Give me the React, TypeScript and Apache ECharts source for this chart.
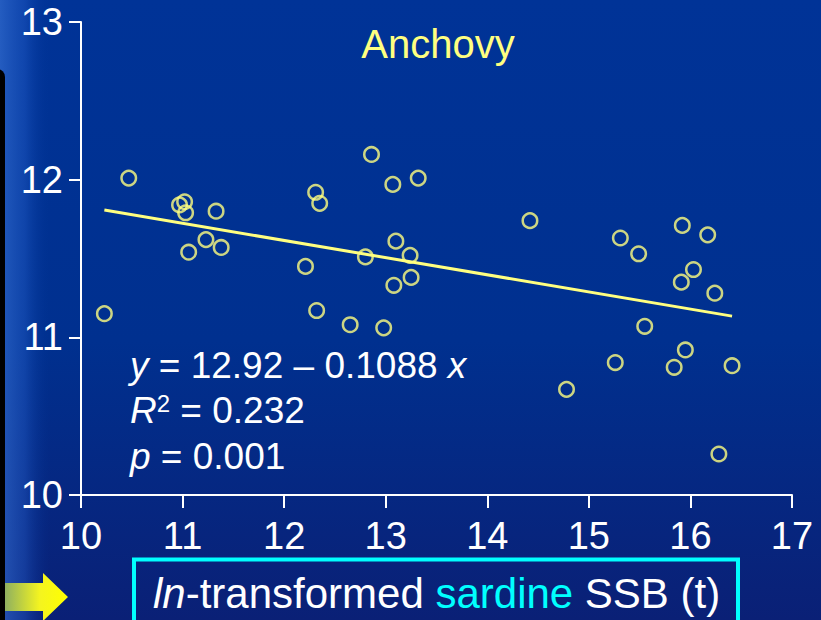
import React, { useEffect, useRef } from "react";
import * as echarts from "echarts";

// ln-transformed sardine spawning stock biomass (x) vs anchovy (y)
const sardineSSB: number[] = [
  10.23, 10.47, 10.97, 11.02, 11.03, 11.33, 11.06, 11.23, 11.38, 12.21,
  12.31, 12.35, 12.32, 12.65, 12.86, 13.07, 13.32, 13.10, 12.80, 13.24,
  13.25, 13.08, 12.98, 14.42, 15.31, 15.49, 15.92, 16.17, 16.03, 15.91,
  16.24, 15.55, 15.26, 14.78, 15.95, 15.84, 16.41, 16.28,
];
const anchovy: number[] = [
  11.15, 12.01, 11.84, 11.86, 11.79, 11.80, 11.54, 11.62, 11.57, 11.45,
  11.92, 11.85, 11.17, 11.08, 12.16, 11.97, 12.01, 11.61, 11.51, 11.52,
  11.38, 11.33, 11.06, 11.74, 11.63, 11.53, 11.71, 11.65, 11.43, 11.35,
  11.28, 11.07, 10.84, 10.67, 10.92, 10.81, 10.82, 10.26,
];

// Fitted regression: y = 12.92 - 0.1088 x
const intercept = 12.92;
const slope = -0.1088;
const rSquared = "0.232";
const pValue = "0.001";

const xTicks = [10, 11, 12, 13, 14, 15, 16, 17];
const yTicks = [10, 11, 12, 13];

const FONT = "Liberation Sans, Arial, Helvetica, sans-serif";
const YELLOW = "#ffff80";

export default function App() {
  const ref = useRef<HTMLDivElement>(null);

  useEffect(() => {
    if (!ref.current) return;
    const chart = echarts.init(ref.current, undefined, { renderer: "svg" });

    const points = sardineSSB.map((x, i) => [x, anchovy[i]]);
    const xMin = Math.min(...sardineSSB);
    const xMax = Math.max(...sardineSSB);
    const fit = [
      [xMin, intercept + slope * xMin],
      [xMax, intercept + slope * xMax],
    ];

    chart.setOption({
      animation: false,
      backgroundColor: {
        type: "linear",
        x: 0,
        y: 0,
        x2: 0,
        y2: 1,
        colorStops: [
          { offset: 0, color: "#003397" },
          { offset: 0.55, color: "#00308f" },
          { offset: 1, color: "#0a2076" },
        ],
      },
      grid: { left: 81, right: 29, top: 22, bottom: 125, containLabel: false },
      xAxis: {
        type: "value",
        min: xTicks[0],
        max: xTicks[xTicks.length - 1],
        interval: 1,
        splitLine: { show: false },
        axisLine: { show: true, onZero: false, lineStyle: { color: "#ffffff", width: 2 } },
        axisTick: { show: true, length: 13, lineStyle: { color: "#ffffff", width: 2 } },
        axisLabel: {
          color: "#ffffff",
          fontSize: 38,
          fontFamily: FONT,
          margin: 22,
        },
      },
      yAxis: {
        type: "value",
        min: yTicks[0],
        max: yTicks[yTicks.length - 1],
        interval: 1,
        splitLine: { show: false },
        axisLine: { show: true, onZero: false, lineStyle: { color: "#ffffff", width: 2 } },
        axisTick: { show: true, length: 12, lineStyle: { color: "#ffffff", width: 2 } },
        axisLabel: {
          color: "#ffffff",
          fontSize: 38,
          fontFamily: FONT,
          margin: 18,
        },
      },
      series: [
        {
          type: "line",
          data: fit,
          symbol: "none",
          lineStyle: { color: YELLOW, width: 3 },
          z: 2,
        },
        {
          type: "scatter",
          data: points,
          symbol: "circle",
          symbolSize: 14.5,
          itemStyle: { color: "transparent", borderColor: YELLOW, borderWidth: 2.5 },
          z: 3,
        },
      ],
      graphic: [
        // lighter strip and dark edge on the left side
        {
          type: "rect",
          shape: { x: 0, y: 0, width: 50, height: 620 },
          style: {
            fill: {
              type: "linear",
              x: 0,
              y: 0,
              x2: 1,
              y2: 0,
              colorStops: [
                { offset: 0, color: "rgba(60,120,220,0.6)" },
                { offset: 0.5, color: "rgba(40,100,210,0.38)" },
                { offset: 1, color: "rgba(0,51,151,0)" },
              ],
            },
          },
          z: -1,
          silent: true,
        },
        {
          type: "rect",
          shape: { x: -6, y: 69, width: 11, height: 560, r: [0, 8, 0, 0] },
          style: { fill: "#000000" },
          silent: true,
        },
        // yellow arrow pointing at the axis title
        {
          type: "polygon",
          shape: {
            points: [
              [5, 583],
              [43, 583],
              [43, 573],
              [68, 597],
              [43, 621],
              [43, 611],
              [5, 611],
            ],
          },
          style: {
            fill: {
              type: "linear",
              x: 0,
              y: 0,
              x2: 1,
              y2: 0,
              colorStops: [
                { offset: 0, color: "#8fb060" },
                { offset: 0.55, color: "#f4f420" },
                { offset: 1, color: "#ffff00" },
              ],
            },
          },
          silent: true,
        },
        // boxed x-axis title
        {
          type: "rect",
          shape: { x: 134, y: 559.5, width: 604, height: 80 },
          style: { fill: "transparent", stroke: "#00ffff", lineWidth: 4 },
          silent: true,
        },
        {
          type: "text",
          x: 153,
          y: 593,
          style: {
            text: "{i|ln}{n|-transformed }{c|sardine}{n| SSB (t)}",
            verticalAlign: "middle",
            align: "left",
            rich: {
              i: { fontSize: 42, fontFamily: FONT, fontStyle: "italic", fill: "#ffffff" },
              n: { fontSize: 42, fontFamily: FONT, fill: "#ffffff" },
              c: { fontSize: 42, fontFamily: FONT, fill: "#00ffff" },
            },
          },
          silent: true,
        },
        // panel title
        {
          type: "text",
          x: 438,
          y: 44,
          style: {
            text: "Anchovy",
            fontSize: 40,
            fontFamily: FONT,
            fill: YELLOW,
            align: "center",
            verticalAlign: "middle",
          },
          silent: true,
        },
        // regression statistics
        {
          type: "text",
          x: 130,
          y: 365,
          style: {
            text: `{i|y}{n| = ${intercept.toFixed(2)} – ${Math.abs(slope).toFixed(4)} }{i|x}`,
            verticalAlign: "middle",
            align: "left",
            rich: {
              i: { fontSize: 37, fontFamily: FONT, fontStyle: "italic", fill: "#ffffff" },
              n: { fontSize: 37, fontFamily: FONT, fill: "#ffffff" },
            },
          },
          silent: true,
        },
        {
          type: "text",
          x: 130,
          y: 410,
          style: {
            text: `{i|R}{s|2}{n| = ${rSquared}}`,
            verticalAlign: "middle",
            align: "left",
            rich: {
              i: { fontSize: 37, fontFamily: FONT, fontStyle: "italic", fill: "#ffffff" },
              s: { fontSize: 24, fontFamily: FONT, fill: "#ffffff", verticalAlign: "top" },
              n: { fontSize: 37, fontFamily: FONT, fill: "#ffffff" },
            },
          },
          silent: true,
        },
        {
          type: "text",
          x: 130,
          y: 456,
          style: {
            text: `{i|p}{n| = ${pValue}}`,
            verticalAlign: "middle",
            align: "left",
            rich: {
              i: { fontSize: 37, fontFamily: FONT, fontStyle: "italic", fill: "#ffffff" },
              n: { fontSize: 37, fontFamily: FONT, fill: "#ffffff" },
            },
          },
          silent: true,
        },
      ],
    });

    return () => chart.dispose();
  }, []);

  return (
    <div
      ref={ref}
      style={{ position: "fixed", left: 0, top: 0, width: 821, height: 620 }}
    />
  );
}
